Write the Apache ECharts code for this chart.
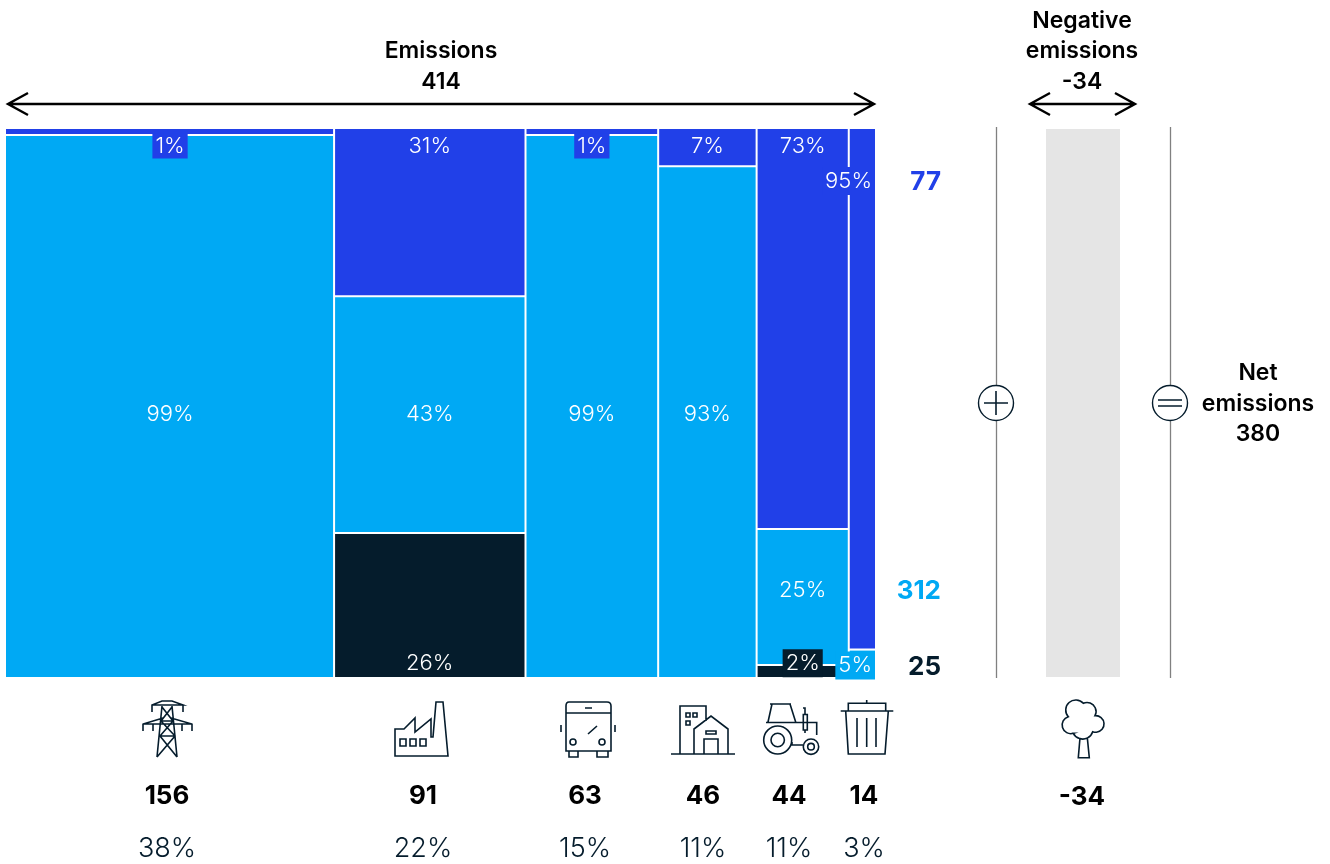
<!DOCTYPE html>
<html>
<head>
    <meta charset="utf-8">
    <title>Emissions</title>
    <script src="https://cdn.jsdelivr.net/npm/echarts@6/dist/echarts.min.js"></script>
    <style>
        html, body { margin: 0; padding: 0; background: #fff; }
    </style>
</head>
<body>
<div id="main" style="width: 1330px;height:864px;"></div>
<script type="text/javascript">
    // sectors, left to right (names taken from the icons)
    var sectors = ['Power', 'Industry', 'Transport', 'Buildings', 'Agriculture', 'Waste'];
    var sectorTotals = ['156', '91', '63', '46', '44', '14'];
    var sectorShares = ['38%', '22%', '15%', '11%', '11%', '3%'];
    // column widths as drawn, in emission units (sum 414)
    var sectorWidths = [156.3, 91.2, 63.2, 46.9, 43.9, 12.5];

    // stacked heights as drawn, percent of each column
    var blueHeights = [1.1, 30.5, 1.1, 6.8, 73, 95];
    var lightHeights = [98.9, 43.2, 98.9, 93.2, 24.8, 5];
    var darkHeights = [0, 26.3, 0, 0, 2.2, 0];

    var blueLabels = ['1%', '31%', '1%', '7%', '73%', '95%'];
    var lightLabels = ['99%', '43%', '99%', '93%', '25%', '5%'];
    var darkLabels = ['', '26%', '', '', '2%', ''];

    var negativeValue = 34;

    var BLUE = '#2140e8', LIGHT = '#00a9f4', DARK = '#051c2c', BLACK = '#000';
    var FONT = 'Inter, sans-serif';

    // where each label sits on the y axis (percent) and whether it gets a filled box
    var blueAnchor = [96.9, 96.9, 96.9, 96.9, 96.9, 90.5];
    var blueBoxed = [true, false, true, false, false, true];
    var lightAnchor = [47.9, 47.9, 47.9, 47.9, 15.8, 2.1];
    var lightBoxed = [false, false, false, false, false, true];
    var darkAnchor = [0, 2.5, 0, 0, 2.5, 0];
    var darkBoxed = [false, false, false, false, true, false];

    var totalsX = [167, 423, 585, 703, 789, 864];

    var edges = [0];
    sectorWidths.forEach(function (w, i) { edges.push(edges[i] + w); });

    function segments(heights, below) {
        return heights.map(function (h, i) {
            var base = below.reduce(function (s, arr) { return s + arr[i]; }, 0);
            return [edges[i], edges[i + 1], base, base + h, i];
        }).filter(function (d) { return d[3] > d[2]; });
    }

    var GAP = 1;
    function renderSegment(params, api) {
        var p0 = api.coord([api.value(0), api.value(3)]);
        var p1 = api.coord([api.value(1), api.value(2)]);
        var i = api.value(4);
        var left = p0[0] + (i > 0 ? GAP : 0);
        var right = p1[0] - (i < sectors.length - 1 ? GAP : 0);
        var top = p0[1] + (api.value(3) < 99.99 ? GAP : 0);
        var bottom = p1[1] - (api.value(2) > 0 ? GAP : 0);
        return {
            type: 'rect',
            shape: { x: left, y: top, width: right - left, height: bottom - top },
            style: { fill: api.visual('color') }
        };
    }

    function segmentSeries(name, color, heights, below) {
        return {
            type: 'custom',
            name: name,
            silent: true,
            itemStyle: { color: color },
            renderItem: renderSegment,
            encode: { x: [0, 1], y: [2, 3] },
            data: segments(heights, below),
            z: 2
        };
    }

    // label rows: [x, y, text, color index, boxed, sector]
    var labelColors = [BLUE, LIGHT, DARK];
    var labelRows = [];
    [[blueLabels, blueAnchor, blueBoxed], [lightLabels, lightAnchor, lightBoxed], [darkLabels, darkAnchor, darkBoxed]].forEach(function (s, c) {
        s[0].forEach(function (t, i) {
            if (t) labelRows.push([(edges[i] + edges[i + 1]) / 2, s[1][i], t, c, s[2][i] ? 1 : 0, i]);
        });
    });

    function renderLabel(params, api) {
        var row = labelRows[params.dataIndex];
        var pos = api.coord([row[0], row[1]]);
        var last = row[5] === sectors.length - 1;
        var end = api.coord([edges[edges.length - 1], 0])[0];
        var boxPadding = row[1] > 95 ? [1.5, 3, 1.5, 3] : [3, 3, 3, 3];
        return {
            type: 'text',
            z2: row[4] ? 5 : 3,
            style: {
                x: last ? end : pos[0],
                y: pos[1],
                text: row[2],
                align: last ? 'right' : 'center',
                verticalAlign: 'middle',
                fontFamily: FONT,
                fontWeight: 300,
                fontSize: 22,
                fill: '#fff',
                backgroundColor: row[4] ? labelColors[row[3]] : 'transparent',
                padding: row[4] ? boxPadding : 0
            }
        };
    }

    function txt(text, x, y, size, weight, color, align) {
        return {
            type: 'text',
            silent: true,
            z: 20,
            style: {
                text: text, x: x, y: y,
                fontFamily: FONT, fontSize: size, fontWeight: weight,
                fill: color || BLACK,
                textAlign: align || 'center',
                textVerticalAlign: 'middle'
            }
        };
    }

    function icon(d, w) {
        return {
            type: 'path',
            shape: { pathData: d },
            style: { fill: null, stroke: DARK, lineWidth: w || 1.6 }
        };
    }

    function arrow(x0, x1, y) {
        return {
            type: 'path',
            shape: {
                pathData: 'M' + x0 + ' ' + y + 'H' + x1 +
                    'M' + (x0 + 20) + ' ' + (y - 11) + 'L' + x0 + ' ' + y + 'L' + (x0 + 20) + ' ' + (y + 11) +
                    'M' + (x1 - 20) + ' ' + (y - 11) + 'L' + x1 + ' ' + y + 'L' + (x1 - 20) + ' ' + (y + 11)
            },
            style: { fill: null, stroke: BLACK, lineWidth: 2.4 }
        };
    }

    function rule(x) {
        return { type: 'line', silent: true, z: 15, shape: { x1: x, y1: 127, x2: x, y2: 678 }, style: { stroke: '#808080', lineWidth: 1.3 } };
    }
    function circle(x, y) {
        return { type: 'circle', silent: true, z: 16, shape: { cx: x, cy: y, r: 17.5 }, style: { fill: '#fff', stroke: DARK, lineWidth: 1.4 } };
    }

    var iconPaths = [
        // tower
        'M152 712V705L162 701H172L183 705H152M183 705V712M143 731V724L163 718M171 718L192 724V731M143 724H192M153 724V731M182 724V731' +
        'M162 706L157 757M172 706L177 757M162 707L173 721L160 736L177 757M172 707L161 721L175 736L157 757M160 736H175M161 721H173',
        // factory
        'M395 756V729H404L415 718V732L431 719V737H433L436 702H443L448 756ZM400 739h6v7h-6ZM410 739h6v7h-6ZM420 739h6v7h-6Z',
        // bus
        'M569 702H607Q611 702 611 706V751H566V706Q566 702 569 702ZM566 713H611M585 708H592M561 725V732M615 725V732M588 734L597 726' +
        'M576 742A3 3 0 1 1 570 742A3 3 0 1 1 576 742ZM605 742A3 3 0 1 1 599 742A3 3 0 1 1 605 742ZM569 751V757H578V751M597 751V757H608V751',
        // buildings
        'M671 754H735M680 754V706H706V721M694 754V729L711 716L728 729V754M704 754V739H718V754M706 731H716V734H706Z' +
        'M686 713h4v4h-4ZM693 713h4v4h-4ZM686 721h4v4h-4Z',
        // tractor
        'M791.7 740A14 14 0 1 1 763.7 740A14 14 0 1 1 791.7 740ZM784.4 740A6.7 6.7 0 1 1 771 740A6.7 6.7 0 1 1 784.4 740Z' +
        'M818.7 746.7A7.7 7.7 0 1 1 803.3 746.7A7.7 7.7 0 1 1 818.7 746.7ZM814.3 746.7A3.3 3.3 0 1 1 807.7 746.7A3.3 3.3 0 1 1 814.3 746.7Z' +
        'M770 704H791M772 704L768 722M790 704L796 723M766 722.5H796H816.7V735M803.3 714.5h4v15.5h-4ZM805 714V708H803M805 730V733M792 742V745H803',
        // bin
        'M848.3 711V703.3H885.7V711M840.7 711H893.3M866.7 703V700M845.7 711L848.3 754H885L888.3 711M857 718V747M866.7 718V747M876 718V747',
        // tree
        'M1073.3 733.3A8.3 8.3 0 1 1 1068.3 716.7A10 10 0 0 1 1083.3 703.3A9 9 0 0 1 1095 715.7A8.3 8.3 0 1 1 1092.7 731.7A10.5 10.5 0 0 1 1073.3 733.3Z' +
        'M1080 737.7L1078.3 757.7H1089.3L1087.3 737.7'
    ];

    // icons and arrows go through a coordinate-free custom series (graphic has no path type)
    var decorChildren = [
        arrow(8, 874, 104),
        arrow(1030, 1135, 104),
        icon('M984 403H1008M996 391V415', 1.6),
        icon('M1158 400H1182M1158 406H1182', 1.6)
    ].concat(iconPaths.map(function (d) { return icon(d); }));

    var graphics = [
        txt('Emissions', 441, 51, 23, 600),
        txt('414', 441, 82, 23, 600),
        txt('Negative', 1082, 21, 23, 600),
        txt('emissions', 1082, 51, 23, 600),
        txt('-34', 1082, 82, 23, 600),
        txt('Net', 1258, 373, 23, 600),
        txt('emissions', 1258, 404, 23, 600),
        txt('380', 1258, 434, 23, 600),
        txt('77', 941, 182, 26, 700, BLUE, 'right'),
        txt('312', 941, 591, 26, 700, LIGHT, 'right'),
        txt('25', 941, 667, 26, 700, DARK, 'right'),
        txt('-34', 1082, 797, 26, 700),
        rule(996.5), rule(1170.5),
        circle(996, 403), circle(1170, 403)
    ];
    sectors.forEach(function (s, i) {
        graphics.push(txt(sectorTotals[i], totalsX[i], 796, 26, 700));
        graphics.push(txt(sectorShares[i], totalsX[i], 849, 27, 300, '#051c2c'));
    });

    var hiddenAxis = { type: 'value', show: false };

    var myChart = echarts.init(document.getElementById('main'));
    myChart.setOption({
        animation: false,
        backgroundColor: '#fff',
        grid: [
            { left: 6, top: 129, width: 869, height: 548 },
            { left: 1046, top: 129, width: 74, height: 548 }
        ],
        xAxis: [
            Object.assign({ gridIndex: 0, min: 0, max: 414 }, hiddenAxis),
            Object.assign({ gridIndex: 1, min: 0, max: 34 }, hiddenAxis)
        ],
        yAxis: [
            Object.assign({ gridIndex: 0, min: 0, max: 100 }, hiddenAxis),
            Object.assign({ gridIndex: 1, min: 0, max: 100 }, hiddenAxis)
        ],
        series: [
            segmentSeries('dark', DARK, darkHeights, []),
            segmentSeries('light', LIGHT, lightHeights, [darkHeights]),
            segmentSeries('blue', BLUE, blueHeights, [darkHeights, lightHeights]),
            {
                type: 'custom',
                name: 'labels',
                silent: true,
                renderItem: renderLabel,
                encode: { x: 0, y: 1 },
                data: labelRows.map(function (r) { return [r[0], r[1]]; }),
                z: 5
            },
            {
                type: 'custom',
                name: 'negative',
                silent: true,
                xAxisIndex: 1,
                yAxisIndex: 1,
                encode: { x: 0, y: 1 },
                data: [[negativeValue, 100]],
                renderItem: function (params, api) {
                    var p0 = api.coord([0, api.value(1)]);
                    var p1 = api.coord([api.value(0), 0]);
                    return {
                        type: 'rect',
                        shape: { x: p0[0], y: p0[1], width: p1[0] - p0[0], height: p1[1] - p0[1] },
                        style: { fill: '#e5e5e5' }
                    };
                },
                z: 2
            },
            {
                type: 'custom',
                name: 'decor',
                silent: true,
                coordinateSystem: 'none',
                data: [0],
                renderItem: function () {
                    return { type: 'group', children: decorChildren };
                },
                z: 30
            }
        ],
        graphic: { elements: graphics }
    });
</script>
</body>
</html>
